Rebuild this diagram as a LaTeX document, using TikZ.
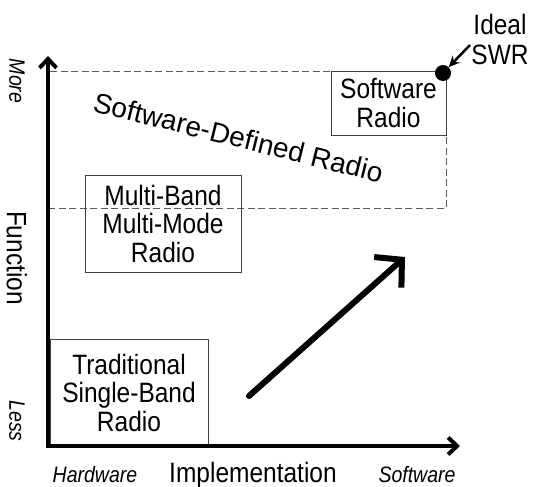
\documentclass[tikz,border=0pt]{standalone}
\usepackage{fontspec}
\setmainfont{Liberation Sans}[FakeStretch=0.875]
\newfontfamily\plainsans{Liberation Sans}
\usetikzlibrary{arrows.meta}
\begin{document}
\begin{tikzpicture}[x=1pt,y=-1pt,
  box/.style={draw=black!75, line width=0.9pt, align=center, inner sep=0pt,
              font=\fontsize{28}{28.5}\selectfont},
  lbl/.style={font=\fontsize{28}{28.5}\selectfont, inner sep=0pt},
  smalllbl/.style={font=\fontsize{22.3}{24}\selectfont\itshape, inner sep=0pt},
  guide/.style={draw=black!65, line width=0.9pt, dash pattern=on 7pt off 3.5pt},
  axisline/.style={line width=4pt,
     {Straight Barb[length=9pt,width=17pt]}-{Straight Barb[length=9pt,width=17pt]}},
  trend/.style={line width=6pt, line cap=round,
     -{Straight Barb[length=19pt,width=41pt]}},
  pointer/.style={line width=2.5pt, -{Stealth[length=11pt,width=10pt]}},
]
\useasboundingbox (0,0) rectangle (536,487);

% dashed guide lines
\coordinate (g1) at (50,71);
\coordinate (g2) at (446,71);
\coordinate (g3) at (446,208);
\coordinate (g4) at (50,208);
\draw[guide] (g1) -- (g2) -- (g3) -- (g4);

% boxes
\node[box, minimum width=158pt, minimum height=107pt] (trad) at (129,392.5)
  {Traditional\\Single-Band\\Radio};
\node[box, minimum width=156pt, minimum height=97pt] (multi) at (163,223.5)
  {Multi-Band\\Multi-Mode\\Radio};
\node[box, minimum width=115pt, minimum height=64pt] (swr) at (388.5,103)
  {Software\\Radio};

% axes
\coordinate (ytip) at (48,56);
\coordinate (origin) at (48,446);
\coordinate (xtip) at (460,446);
\draw[axisline] (ytip) -- (origin) -- (xtip);

% trend arrow
\coordinate (t1) at (249,396);
\coordinate (t2) at (405,257);
\draw[trend] (t1) -- (t2);

% ideal SWR point
\node[circle, fill=black, inner sep=0pt, minimum size=16pt] (dot) at (443,73) {};
\node[lbl, align=center, font=\fontsize{28}{30}\selectfont] (ideal) at (500,39) {Ideal\\SWR};
\coordinate (p1) at (470,45);
\draw[pointer] (p1) -- (dot);

% diagonal label
\node[font=\plainsans\fontsize{28}{30}\selectfont, rotate=-14, anchor=base, inner sep=0pt] (sdr)
  at (236,147) {Software-Defined Radio};

% axis labels
\node[lbl, rotate=-90] (func) at (17,258) {Function};
\node[smalllbl, rotate=-90] (more) at (17,81) {More};
\node[smalllbl, rotate=-90] (less) at (17,421) {Less};
\node[smalllbl, anchor=base] (hw) at (95,482) {Hardware};
\node[lbl, anchor=base] (impl) at (253,482) {Implementation};
\node[smalllbl, anchor=base] (sw) at (417,482) {Software};
\end{tikzpicture}
\end{document}
